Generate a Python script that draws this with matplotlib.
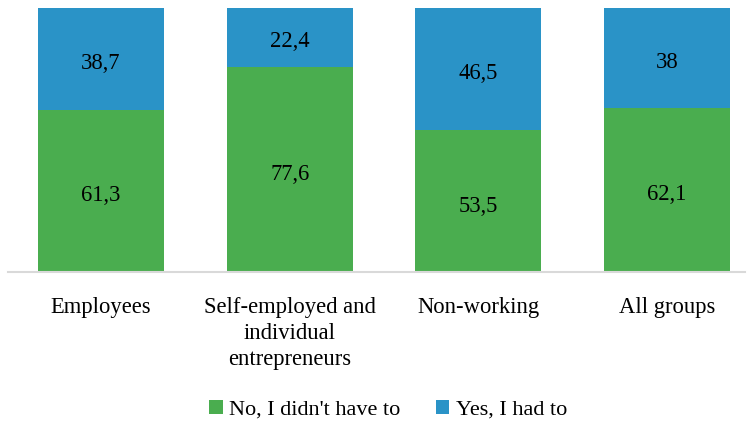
import matplotlib
matplotlib.use('Agg')
import matplotlib.pyplot as plt
import numpy as np

plt.rcParams['font.family'] = ['Liberation Serif', 'DejaVu Serif']

groups = ['Employees', 'Self-employed and\nindividual\nentrepreneurs', 'Non-working', 'All groups']
no_vals = [61.3, 77.6, 53.5, 62.1]
yes_vals = [38.7, 22.4, 46.5, 38]
no_labels = ['61,3', '77,6', '53,5', '62,1']
yes_labels = ['38,7', '22,4', '46,5', '38']

green = '#4aad4f'
blue = '#2a93c7'

fig = plt.figure(figsize=(7.51, 4.22), dpi=100)
ax = fig.add_axes([8/751, 1-272/422, (745-8)/751, (272-7.5)/422])

x = np.arange(len(groups))
ax.bar(x, no_vals, width=0.667, color=green, label="No, I didn't have to")
ax.bar(x, yes_vals, width=0.667, bottom=no_vals, color=blue, label='Yes, I had to')

# value labels in the middle of each segment
for i in range(len(groups)):
    ax.text(x[i], no_vals[i]/2 - 1.8, no_labels[i], ha='center', va='center', fontsize=16.3)
    ax.text(x[i], no_vals[i] + yes_vals[i]/2 - 1.8, yes_labels[i], ha='center', va='center', fontsize=16.3)

ax.set_xlim(-0.493, 3.413)
ax.set_ylim(0, 100)
ax.set_yticks([])
ax.set_xticks(x)
ax.set_xticklabels(groups, fontsize=16.3, va='top', linespacing=1.3)
ax.tick_params(axis='x', length=0, pad=18)
for s in ['top', 'right', 'left']:
    ax.spines[s].set_visible(False)
ax.spines['bottom'].set_color('#d9d9d9')
ax.spines['bottom'].set_linewidth(1.5)

fig.legend(loc='center', bbox_to_anchor=(0.517, 1-410/422), ncol=2, frameon=False,
           fontsize=16, handlelength=0.6, handleheight=0.6, handletextpad=0.3,
           columnspacing=1.6)

fig.savefig('out.png', dpi=100)
